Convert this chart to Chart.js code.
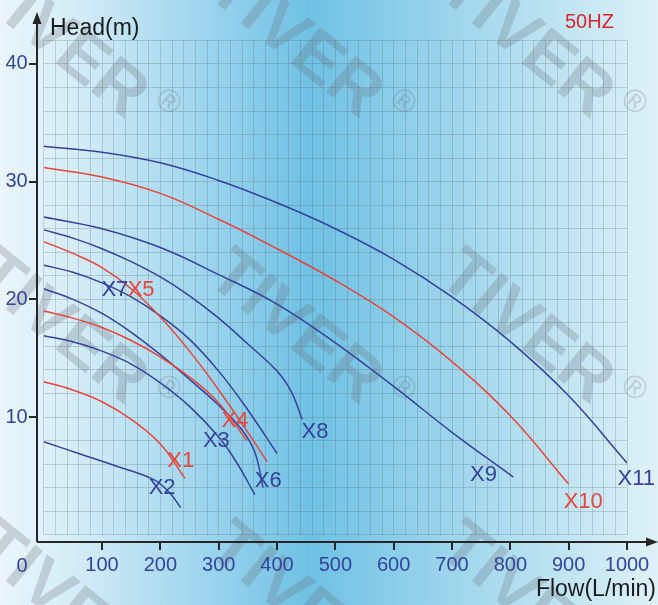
<!DOCTYPE html>
<html>
<head>
<meta charset="utf-8">
<title>Pump curves 50HZ</title>
<script src="https://cdn.jsdelivr.net/npm/chart.js@4.4.1/dist/chart.umd.min.js"></script>
<style>
    html, body { margin: 0; padding: 0; background: #dff1f7; }
    .chart-wrap { width: 658px; height: 605px; }
</style>
</head>
<body>
<div class="chart-wrap"><canvas id="pumpChart" width="658" height="605"></canvas></div>
<script>
// Axis ticks (labelled ones only)
const xTickLabels = [100, 200, 300, 400, 500, 600, 700, 800, 900, 1000];
const yTickLabels = [10, 20, 30, 40];

// Pump curves: flow (L/min) / head (m)
const curveNames = ['X1', 'X2', 'X3', 'X4', 'X5', 'X6', 'X7', 'X8', 'X9', 'X10', 'X11'];

const flowX1 = [0, 50, 100, 150, 200, 242];
const headX1 = [13.0, 12.3, 11.3, 9.8, 7.7, 4.8];
const flowX2 = [0, 60, 120, 188, 215, 235];
const headX2 = [7.9, 6.9, 5.9, 4.7, 3.6, 2.3];
const flowX3 = [0, 50, 100, 150, 200, 250, 300, 330, 362];
const headX3 = [16.9, 16.4, 15.6, 14.5, 12.9, 10.9, 8.3, 6.2, 3.4];
const flowX4 = [0, 50, 100, 150, 200, 250, 300, 348];
const headX4 = [19.0, 18.4, 17.6, 16.5, 15.1, 13.4, 11.2, 8.0];
const flowX5 = [0, 50, 100, 150, 200, 250, 300, 350, 383];
const headX5 = [24.9, 23.9, 22.7, 20.9, 18.5, 15.6, 12.3, 8.7, 6.2];
const flowX6 = [0, 50, 100, 150, 200, 250, 300, 340, 362, 376];
const headX6 = [20.9, 20.0, 18.8, 17.2, 15.3, 13.2, 11.0, 8.9, 7.0, 4.0];
const flowX7 = [0, 50, 100, 150, 200, 250, 300, 350, 400];
const headX7 = [22.9, 22.3, 21.4, 20.2, 18.6, 16.6, 13.9, 10.6, 6.9];
const flowX8 = [0, 50, 100, 150, 200, 250, 300, 350, 400, 425, 443];
const headX8 = [25.9, 25.2, 24.3, 23.2, 21.9, 20.3, 18.4, 16.2, 13.9, 12.1, 9.8];
const flowX9 = [0, 100, 200, 300, 400, 500, 600, 700, 805];
const headX9 = [27.0, 26.0, 24.4, 22.1, 19.6, 16.3, 12.6, 8.7, 4.9];
const flowX10 = [0, 100, 200, 300, 400, 500, 600, 700, 800, 900];
const headX10 = [31.2, 30.4, 29.0, 26.8, 24.3, 21.6, 18.5, 14.7, 10.1, 4.3];
const flowX11 = [0, 100, 200, 300, 400, 500, 600, 700, 800, 900, 1000];
const headX11 = [33.0, 32.5, 31.6, 30.1, 28.2, 26.0, 23.4, 20.2, 16.4, 11.8, 6.1];

// Where each curve name is written (flow, head)
const labelFlow = [235, 203, 296, 328, 167, 385, 122, 465, 754, 925, 1016];
const labelHead = [6.3, 4.0, 8.0, 9.7, 20.8, 4.6, 20.8, 8.7, 5.1, 2.8, 4.7];

(function() {
    'use strict';

    const BLUE = '#36429a';
    const RED = '#e8453c';
    const TEXT_BLUE = '#33459a';
    const FONT = "'Liberation Sans', Arial, sans-serif";

    const flows = [flowX1, flowX2, flowX3, flowX4, flowX5, flowX6, flowX7, flowX8, flowX9, flowX10, flowX11];
    const heads = [headX1, headX2, headX3, headX4, headX5, headX6, headX7, headX8, headX9, headX10, headX11];
    const redCurves = ['X1', 'X4', 'X5', 'X10'];

    const datasets = curveNames.map(function(name, i) {
        return {
            label: name,
            data: flows[i].map(function(f, j) { return { x: f, y: heads[i][j] }; }),
            borderColor: redCurves.includes(name) ? RED : BLUE,
            borderWidth: 1.5,
            pointRadius: 0,
            fill: false,
            tension: 0.4
        };
    });

    // Background, watermark, axis arrows and annotations
    const pumpDecor = {
        id: 'pumpDecor',
        beforeDraw(chart) {
            const ctx = chart.ctx;
            const w = chart.width, h = chart.height;
            ctx.save();
            const g = ctx.createLinearGradient(0, 0, w, 0);
            g.addColorStop(0, '#eaf5fb');
            g.addColorStop(0.12, '#d3ecf6');
            g.addColorStop(0.3, '#a0d6ee');
            g.addColorStop(0.47, '#6fc1e4');
            g.addColorStop(0.6, '#8acde8');
            g.addColorStop(0.75, '#abdbee');
            g.addColorStop(0.9, '#c9e8f3');
            g.addColorStop(1, '#dff1f7');
            ctx.fillStyle = g;
            ctx.fillRect(0, 0, w, h);

            // watermark
            const angle = 39 * Math.PI / 180;
            const cols = [-30, 205, 436];
            const rows = [-6, 280, 552];
            ctx.fillStyle = 'rgba(105, 110, 115, 0.26)';
            rows.forEach(function(ry) {
                cols.forEach(function(cx) {
                    ctx.save();
                    ctx.translate(cx, ry);
                    ctx.rotate(angle);
                    ctx.font = 'bold 68px ' + FONT;
                    ctx.textBaseline = 'alphabetic';
                    ctx.textAlign = 'left';
                    ctx.fillText('TIVER', 0, 0);
                    ctx.font = '32px ' + FONT;
                    ctx.textAlign = 'center';
                    ctx.textBaseline = 'middle';
                    ctx.fillText('\u00AE', 222, -40);
                    ctx.restore();
                });
            });
            ctx.restore();
        },
        afterDraw(chart) {
            const ctx = chart.ctx;
            const xs = chart.scales.x, ys = chart.scales.y;
            const axisX = Math.round(xs.left) - 7;   // vertical axis line
            const axisY = Math.round(ys.bottom) + 7; // horizontal axis line
            ctx.save();

            ctx.strokeStyle = '#262626';
            ctx.fillStyle = '#262626';
            ctx.lineWidth = 2;
            ctx.beginPath();
            ctx.moveTo(axisX, axisY);
            ctx.lineTo(axisX, 22);
            ctx.moveTo(axisX, axisY);
            ctx.lineTo(chart.width - 9, axisY);
            ctx.stroke();
            // arrow heads
            ctx.beginPath();
            ctx.moveTo(axisX, 12);
            ctx.lineTo(axisX - 4.5, 24);
            ctx.lineTo(axisX + 4.5, 24);
            ctx.closePath();
            ctx.fill();
            ctx.beginPath();
            ctx.moveTo(chart.width, axisY);
            ctx.lineTo(chart.width - 12, axisY - 4.5);
            ctx.lineTo(chart.width - 12, axisY + 4.5);
            ctx.closePath();
            ctx.fill();

            // tick marks
            ctx.beginPath();
            xTickLabels.forEach(function(v) {
                const px = Math.round(xs.getPixelForValue(v));
                ctx.moveTo(px, axisY);
                ctx.lineTo(px, axisY + 8);
            });
            yTickLabels.forEach(function(v) {
                const py = Math.round(ys.getPixelForValue(v));
                ctx.moveTo(axisX, py);
                ctx.lineTo(axisX - 8, py);
            });
            ctx.stroke();

            // origin label
            ctx.font = '20px ' + FONT;
            ctx.fillStyle = TEXT_BLUE;
            ctx.textAlign = 'center';
            ctx.textBaseline = 'middle';
            ctx.fillText('0', 22, 566);

            // axis titles
            ctx.fillStyle = '#1c1c1c';
            ctx.font = '23px ' + FONT;
            ctx.textBaseline = 'alphabetic';
            ctx.textAlign = 'left';
            ctx.fillText('Head(m)', 50, 35);
            ctx.textAlign = 'right';
            ctx.fillText('Flow(L/min)', 656, 596);

            ctx.fillStyle = '#d8262e';
            ctx.font = '20px ' + FONT;
            ctx.textAlign = 'left';
            ctx.fillText('50HZ', 565, 28);

            // curve names
            ctx.font = '22px ' + FONT;
            ctx.textAlign = 'center';
            ctx.textBaseline = 'middle';
            curveNames.forEach(function(name, i) {
                ctx.fillStyle = redCurves.includes(name) ? RED : BLUE;
                ctx.fillText(name, xs.getPixelForValue(labelFlow[i]), ys.getPixelForValue(labelHead[i]));
            });
            ctx.restore();
        }
    };

    const gridColor = 'rgba(80, 100, 110, 0.24)';

    new Chart(document.getElementById('pumpChart'), {
        type: 'line',
        data: { datasets: datasets },
        options: {
            responsive: false,
            animation: false,
            layout: { padding: { top: 40.4, right: 31, left: 0, bottom: 0 } },
            plugins: {
                legend: { display: false },
                tooltip: { enabled: false }
            },
            scales: {
                x: {
                    type: 'linear',
                    min: 0,
                    max: 1000,
                    afterFit: function(scale) {
                        scale.height = 70.3;
                        scale.paddingLeft = 0;
                        scale.paddingRight = 0;
                    },
                    border: { display: false },
                    grid: { color: gridColor, lineWidth: 1, drawTicks: false },
                    ticks: {
                        stepSize: 20,
                        autoSkip: false,
                        maxRotation: 0,
                        minRotation: 0,
                        padding: 19,
                        color: TEXT_BLUE,
                        font: { family: FONT, size: 20 },
                        callback: function(value) {
                            return xTickLabels.includes(value) ? String(value) : '';
                        }
                    }
                },
                y: {
                    type: 'linear',
                    min: 0,
                    max: 42,
                    afterFit: function(scale) {
                        scale.width = 43.7;
                        scale.paddingTop = 0;
                        scale.paddingBottom = 0;
                    },
                    border: { display: false },
                    grid: { color: gridColor, lineWidth: 1, drawTicks: false },
                    ticks: {
                        stepSize: 2,
                        autoSkip: false,
                        padding: 16,
                        color: TEXT_BLUE,
                        font: { family: FONT, size: 20 },
                        callback: function(value) {
                            return yTickLabels.includes(value) ? String(value) : '';
                        }
                    }
                }
            }
        },
        plugins: [pumpDecor]
    });
})();
</script>
</body>
</html>
